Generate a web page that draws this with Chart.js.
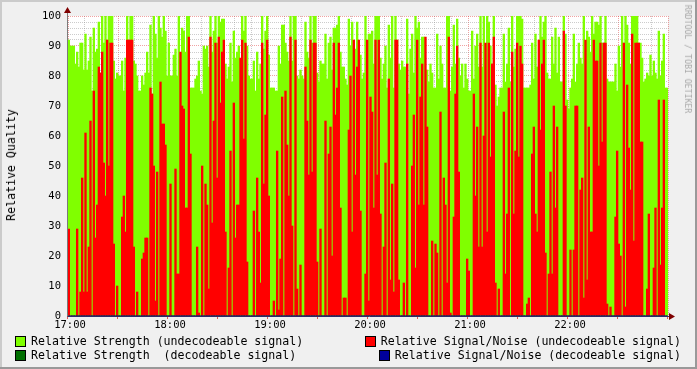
<!DOCTYPE html>
<html>
<head>
<meta charset="utf-8">
<script src="https://cdn.jsdelivr.net/npm/chart.js@4/dist/chart.umd.min.js"></script>
<style>
  html, body { margin: 0; padding: 0; background: #f0f0f0; }
  #wrap { position: relative; width: 697px; height: 369px; overflow: hidden; font-family: "DejaVu Sans Mono", monospace; color: #000; }
  canvas { position: absolute; left: 0; top: 0; }
  .ytitle { position: absolute; left: 11px; top: 165px; transform: translate(-50%, -50%) rotate(-90deg); font-size: 11.6px; white-space: nowrap; }
  .mark { position: absolute; left: 688px; top: 59px; transform: translate(-50%, -50%) rotate(90deg); font-size: 8.2px; color: #a8a8a8; white-space: nowrap; }
  .leg { position: absolute; font-size: 11.6px; white-space: pre; display: flex; align-items: center; height: 14px; }
  .leg i { display: inline-block; width: 9px; height: 9px; border: 1px solid #000; margin-right: 5px; }
</style>
</head>
<body>
<div id="wrap">
  <canvas id="chart" width="697" height="369"></canvas>
  <div class="ytitle">Relative Quality</div>
  <div class="mark">RRDTOOL / TOBI OETIKER</div>
  <div id="legend"></div>
</div>
<script>
// one sample per minute, 17:00 .. 23:00
const hourLabels = ['17:00', '18:00', '19:00', '20:00', '21:00', '22:00'];

const strengthUndecoded = [
  92,90,90,90,84,88,83,91,91,82,94,82,85,93,75,96,88,89,98,81,100,91,100,92,100,100,100,85,79,81,80,
  80,85,75,86,100,85,100,100,85,84,80,75,75,80,77,81,88,81,97,74,100,94,86,100,96,93,100,95,80,91,80,
  80,87,89,80,100,83,96,95,88,100,100,76,76,76,79,80,85,75,74,90,89,90,83,100,88,95,100,91,100,98,
  99,99,84,79,83,91,78,95,86,88,90,72,100,95,100,90,80,79,79,85,75,88,79,84,100,89,95,100,87,76,
  76,76,75,75,90,84,97,97,91,88,85,100,85,100,100,80,79,82,80,79,98,88,86,100,91,100,100,81,78,85,
  84,84,94,79,91,93,82,96,96,97,100,88,83,83,79,77,99,90,98,91,89,98,87,87,79,81,100,75,94,94,
  95,84,100,100,100,86,79,84,90,76,97,86,100,76,100,92,84,82,85,83,83,99,74,89,94,81,100,96,98,86,
  93,93,73,82,78,84,81,76,76,94,79,90,84,76,76,100,100,75,83,97,84,99,86,80,84,76,84,79,75,75,
  95,79,90,94,83,100,83,100,83,100,98,90,84,100,77,70,73,76,76,94,78,84,96,78,100,83,89,100,100,100,
  99,76,76,76,76,77,91,79,94,83,81,100,93,98,100,81,79,79,93,84,96,81,93,78,78,100,94,72,69,76,
  79,94,78,84,91,86,84,100,85,95,93,88,100,94,98,98,97,100,91,91,100,79,78,78,78,78,84,75,90,83,
  100,91,100,97,91,84,100,100,100,100,91,91,86,78,79,81,80,87,80,85,81,79,95,80,85,94,76,76
];

const snrUndecoded = [
  29,0,0,0,0,29,0,8,46,8,61,8,23,65,0,75,26,37,83,81,88,51,40,92,50,91,91,24,0,10,0,
  0,33,40,28,92,92,92,92,23,0,8,0,0,19,21,26,26,0,76,74,50,5,48,0,78,64,64,57,0,0,44,
  0,0,49,14,14,88,70,69,36,36,93,54,0,0,0,23,1,0,50,0,44,37,9,93,31,65,91,46,93,71,
  88,92,28,0,16,55,0,71,26,37,37,86,92,59,91,18,0,0,0,35,0,46,28,11,91,44,67,92,40,0,
  0,5,0,55,2,19,73,0,75,57,40,93,30,0,92,9,0,17,0,0,83,65,47,92,48,91,91,18,0,29,
  0,0,65,0,54,63,20,91,67,76,91,36,0,6,6,0,62,80,28,92,47,83,92,35,0,0,14,92,5,73,
  68,36,92,47,92,34,0,23,51,0,79,12,44,8,92,92,12,0,0,11,0,84,0,0,50,67,16,92,37,73,
  84,37,93,63,0,0,25,0,24,21,0,68,0,46,37,11,93,1,0,33,74,90,48,0,0,0,0,19,15,0,
  0,74,40,63,23,91,23,60,91,28,91,53,84,93,11,0,9,0,0,68,14,34,76,0,88,34,55,91,53,90,
  84,0,0,4,6,0,54,63,34,28,92,62,84,92,21,0,14,48,14,70,36,63,0,0,0,95,70,0,0,22,
  0,22,70,70,0,42,46,6,92,12,63,28,28,92,85,85,50,91,58,91,91,4,0,3,0,0,33,55,24,20,
  0,91,3,77,56,42,94,25,91,91,91,58,58,0,0,9,34,0,0,16,36,0,72,17,36,72,0,0
];

// nothing was decoded in this window
const strengthDecoded = strengthUndecoded.map(() => 0);
const snrDecoded = snrUndecoded.map(() => 0);

const GREEN = '#80ff00', RED = '#ff0000', DKGREEN = '#006f00', BLUE = '#00009c';
const FONT = '"DejaVu Sans Mono", monospace';

const pts = arr => arr.map((v, i) => ({ x: i + 0.5, y: v }));

// background, shading and axis arrows the rrdtool way
const frame = {
  id: 'frame',
  beforeDraw(chart) {
    const { ctx, chartArea: a, width: w, height: h } = chart;
    ctx.save();
    ctx.fillStyle = '#f0f0f0';
    ctx.fillRect(0, 0, w, h);
    ctx.fillStyle = '#cbcbcb';
    ctx.fillRect(0, 0, w, 2);
    ctx.fillRect(0, 0, 2, h);
    ctx.fillStyle = '#999999';
    ctx.fillRect(0, h - 2, w, 2);
    ctx.fillRect(w - 2, 0, 2, h);
    ctx.fillStyle = '#ffffff';
    ctx.fillRect(a.left, a.top, a.right - a.left, a.bottom - a.top);
    ctx.restore();
  },
  afterDraw(chart) {
    const { ctx, chartArea: a } = chart;
    const x = chart.scales.x;
    ctx.save();
    // half-hour ticks under the axis
    ctx.strokeStyle = 'rgba(222,48,48,0.8)';
    ctx.lineWidth = 1;
    for (let m = 0; m <= 360; m += 30) {
      const px = Math.round(x.getPixelForValue(m)) - 0.5;
      ctx.beginPath(); ctx.moveTo(px, a.bottom); ctx.lineTo(px, a.bottom + 3); ctx.stroke();
    }
    ctx.strokeStyle = '#7a7a7a';
    ctx.beginPath();
    ctx.moveTo(a.left - 0.5, a.bottom + 0.5); ctx.lineTo(a.left - 0.5, a.top - 6);
    ctx.stroke();
    ctx.strokeStyle = '#2c2c6a';
    ctx.beginPath();
    ctx.moveTo(a.left - 0.5, a.bottom + 0.5); ctx.lineTo(a.right + 4, a.bottom + 0.5);
    ctx.stroke();
    ctx.fillStyle = '#7f0000';
    ctx.beginPath();
    ctx.moveTo(a.right + 7, a.bottom + 0.5); ctx.lineTo(a.right + 1, a.bottom - 3); ctx.lineTo(a.right + 1, a.bottom + 4);
    ctx.closePath(); ctx.fill();
    ctx.beginPath();
    ctx.moveTo(a.left - 0.5, a.top - 9); ctx.lineTo(a.left - 4, a.top - 3); ctx.lineTo(a.left + 3, a.top - 3);
    ctx.closePath(); ctx.fill();
    ctx.restore();
  }
};

const gridColor = major => major ? 'rgba(222,48,48,0.45)' : 'rgba(143,143,143,0.45)';

const chart = new Chart(document.getElementById('chart'), {
  type: 'bar',
  data: {
    datasets: [
      { label: 'Relative Strength (undecodeable signal)', data: pts(strengthUndecoded), backgroundColor: GREEN, order: 4 },
      { label: 'Relative Signal/Noise (undecodeable signal)', data: pts(snrUndecoded), backgroundColor: RED, order: 3 },
      { label: 'Relative Strength  (decodeable signal)', data: pts(strengthDecoded), backgroundColor: DKGREEN, order: 2 },
      { label: 'Relative Signal/Noise (decodeable signal)', data: pts(snrDecoded), backgroundColor: BLUE, order: 1 },
    ],
  },
  options: {
    responsive: false,
    animation: false,
    grouped: false,
    barPercentage: 1,
    categoryPercentage: 1,
    borderWidth: 0,
    layout: { padding: { top: 16, right: 29, left: 0, bottom: 0 } },
    plugins: { legend: { display: false }, tooltip: { enabled: false } },
    scales: {
      x: {
        type: 'linear', min: 0, max: 360, offset: false, z: 1,
        grid: { offset: false, drawTicks: false, color: c => gridColor(c.tick && c.tick.value % 30 === 0) },
        border: { display: false, dash: [1, 1] },
        ticks: {
          stepSize: 10, autoSkip: false, maxTicksLimit: 100, maxRotation: 0, padding: 3, labelOffset: 2,
          color: '#000', font: { family: FONT, size: 10.5 },
          callback: v => (v % 60 === 0 && v < 360) ? hourLabels[v / 60] : '',
        },
        afterFit: s => { s.height = 53; },
      },
      y: {
        min: 0, max: 100, z: 1,
        grid: { drawTicks: false, color: c => gridColor(c.tick && c.tick.value % 10 === 0) },
        border: { display: false, dash: [1, 1] },
        ticks: {
          stepSize: 2, autoSkip: false, maxTicksLimit: 100, padding: 7,
          color: '#000', font: { family: FONT, size: 10.5 },
          callback: v => v % 10 === 0 ? v : '',
        },
        afterFit: s => { s.width = 68; },
      },
    },
  },
  plugins: [frame],
});

// rrdtool style legend: left column flush left, right column flush right
const legendPos = [
  { left: 15, top: 334 }, { right: 16, top: 334 },
  { left: 15, top: 348 }, { right: 16, top: 348 },
];
const legendEl = document.getElementById('legend');
chart.data.datasets.forEach((ds, i) => {
  const p = legendPos[i];
  const d = document.createElement('div');
  d.className = 'leg';
  d.style.top = p.top + 'px';
  if (p.left !== undefined) d.style.left = p.left + 'px'; else d.style.right = p.right + 'px';
  d.innerHTML = `<i style="background:${ds.backgroundColor}"></i><span>${ds.label}</span>`;
  legendEl.appendChild(d);
});
</script>
</body>
</html>
